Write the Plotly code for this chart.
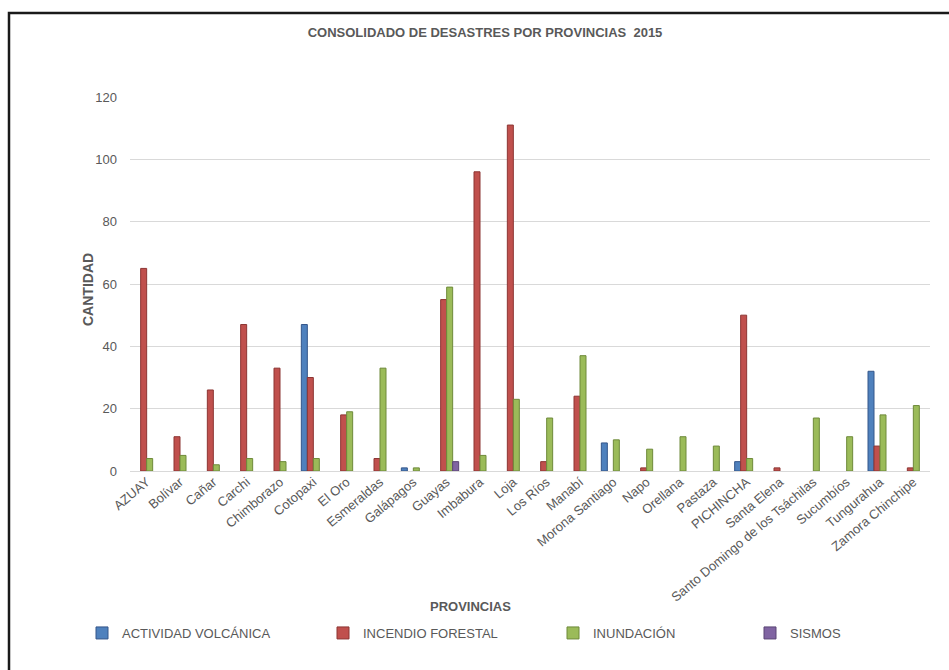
import plotly.graph_objects as go

# Provinces (x categories)
provincias = [
    "AZUAY", "Bolívar", "Cañar", "Carchi", "Chimborazo", "Cotopaxi", "El Oro",
    "Esmeraldas", "Galápagos", "Guayas", "Imbabura", "Loja", "Los Ríos", "Manabí",
    "Morona Santiago", "Napo", "Orellana", "Pastaza", "PICHINCHA", "Santa Elena",
    "Santo Domingo de los Tsáchilas", "Sucumbíos", "Tungurahua", "Zamora Chinchipe",
]

# Disaster counts per province, one list per disaster type
actividad_volcanica = [None, None, None, None, None, 47, None, None, 1, None, None, None,
                       None, None, 9, None, None, None, 3, None, None, None, 32, None]
incendio_forestal = [65, 11, 26, 47, 33, 30, 18, 4, None, 55, 96, 111,
                     3, 24, None, 1, None, None, 50, 1, None, None, 8, 1]
inundacion = [4, 5, 2, 4, 3, 4, 19, 33, 1, 59, 5, 23,
              17, 37, 10, 7, 11, 8, 4, None, 17, 11, 18, 21]
sismos = [None, None, None, None, None, None, None, None, None, 3, None, None,
          None, None, None, None, None, None, None, None, None, None, None, None]

y_ticks = [0, 20, 40, 60, 80, 100, 120]

FONT = "Liberation Sans Narrow, Arial Narrow, Liberation Sans, Arial, sans-serif"
GRAY = "#595959"

# Plot-area geometry in pixels (used to place paper-referenced items)
W, H = 949, 670
ML, MR, MT, MB = 130, 19, 97, 199
PW, PH = W - ML - MR, H - MT - MB


def px_x(p):
    return (p - ML) / PW


def px_y(p):
    return (H - MB - p) / PH


series = [
    ("ACTIVIDAD VOLCÁNICA", actividad_volcanica, "#4F81BD", "#34568A", "legend", 82),
    ("INCENDIO FORESTAL", incendio_forestal, "#C0504D", "#8C3533", "legend2", 323),
    ("INUNDACIÓN", inundacion, "#9BBB59", "#6E8A3A", "legend3", 553),
    ("SISMOS", sismos, "#8064A2", "#5A4575", "legend4", 750),
]

fig = go.Figure()
for name, vals, col, edge, leg, _ in series:
    fig.add_trace(go.Bar(
        x=provincias, y=vals, name=name, legend=leg,
        marker=dict(color=col, line=dict(color=edge, width=1)),
    ))

legend_font = dict(family=FONT, size=13, color=GRAY)
legends = {}
for name, vals, col, edge, leg, xpix in series:
    legends[leg] = dict(
        x=px_x(xpix), y=px_y(633), xanchor="left", yanchor="middle",
        orientation="h", font=legend_font, bgcolor="rgba(0,0,0,0)",
        itemwidth=30,
    )

fig.update_layout(
    width=W, height=H,
    margin=dict(l=ML, r=MR, t=MT, b=MB, autoexpand=False),
    paper_bgcolor="white", plot_bgcolor="white",
    barmode="group", bargap=0.28, bargroupgap=0,
    font=dict(family=FONT, color=GRAY, size=13),
    title=dict(
        text="<b>CONSOLIDADO DE DESASTRES POR PROVINCIAS\u00a0 2015</b>",
        x=px_x(485) * PW / W + ML / W, xanchor="center",
        y=1 - 32 / H, yanchor="middle",
        font=dict(family=FONT, size=13, color=GRAY),
    ),
    xaxis=dict(
        tickangle=-40, tickfont=dict(family=FONT, size=13, color=GRAY),
        showgrid=False, showline=False, ticks="", zeroline=False,
    ),
    yaxis=dict(
        range=[0, 120], tickvals=y_ticks,
        tickfont=dict(family=FONT, size=13, color=GRAY),
        showgrid=True, gridcolor="#D9D9D9", gridwidth=1,
        zeroline=True, zerolinecolor="#D9D9D9", zerolinewidth=1,
        showline=False, ticks="", ticklabelstandoff=12,
    ),
    showlegend=True,
    **legends,
    annotations=[
        dict(text="<b>CANTIDAD</b>", xref="paper", yref="paper",
             x=px_x(88), y=px_y(290), textangle=-90, showarrow=False,
             font=dict(family=FONT, size=14, color=GRAY),
             xanchor="center", yanchor="middle"),
        dict(text="<b>PROVINCIAS</b>", xref="paper", yref="paper",
             x=px_x(470), y=px_y(606), showarrow=False,
             font=dict(family=FONT, size=13, color=GRAY),
             xanchor="center", yanchor="middle"),
    ],
    shapes=[
        dict(type="rect", xref="paper", yref="paper", layer="below",
             x0=px_x(9), x1=px_x(990), y0=px_y(720), y1=px_y(13),
             line=dict(color="#1A1A1A", width=2.5), fillcolor="rgba(0,0,0,0)"),
    ],
)

fig.write_html("out.html")
